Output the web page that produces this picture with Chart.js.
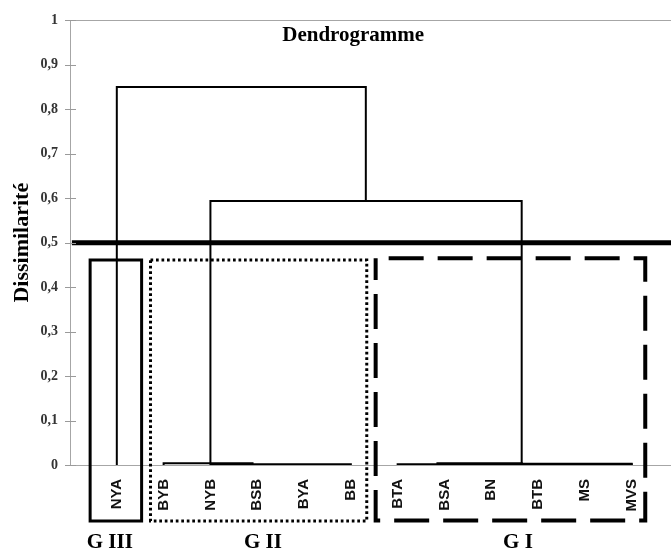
<!DOCTYPE html>
<html>
<head>
<meta charset="utf-8">
<script src="https://cdn.jsdelivr.net/npm/chart.js@4.4.1/dist/chart.umd.min.js"></script>
<style>
  html, body { margin: 0; padding: 0; background: #ffffff; }
  canvas { display: block; }
</style>
</head>
<body>
<canvas id="chart" width="671" height="553"></canvas>
<script>
// Leaves of the tree, left to right (leaf i sits at x = i + 1)
const leaves = ['NYA', 'BYB', 'NYB', 'BSB', 'BYA', 'BB', 'BTA', 'BSA', 'BN', 'BTB', 'MS', 'MVS'];

// Merges drawn as U-shapes: left branch x, right branch x,
// height of each child node and height of the merge itself
const linkLeftX   = [1,     3,     2,     3,      7,      7.85,  9.65];
const linkRightX  = [6.32,  9.65,  3.9,   6,      12,     9.65,  12];
const linkLeftH   = [0,     0.004, 0,     0,      0,      0,     0];
const linkRightH  = [0.594, 0.004, 0,     0,      0,      0,     0];
const linkHeight  = [0.85,  0.594, 0.004, 0.0015, 0.0015, 0.004, 0.003];

// Truncation level of the tree
const cutLevel = 0.5;

// Y axis tick labels
const yTickValues = [0, 0.1, 0.2, 0.3, 0.4, 0.5, 0.6, 0.7, 0.8, 0.9, 1];
const yTickLabels = ['0', '0,1', '0,2', '0,3', '0,4', '0,5', '0,6', '0,7', '0,8', '0,9', '1'];

// Groups obtained after cutting the tree
const groupNames  = ['G III', 'G II', 'G I'];
const groupFrom   = [0.43, 1.72, 6.53];
const groupTo     = [1.53, 6.34, 12.29];
const groupTop    = [0.461, 0.461, 0.465];
const groupBottom = [-0.126, -0.126, -0.125];
const groupLabelX = [0.85, 4.12, 9.57];
const groupLabelY = -0.175;

const X_MAX = 12.84;
const SERIF = '"Liberation Serif", "Times New Roman", serif';
const SANS = '"Liberation Sans", Arial, sans-serif';

const linkDatasets = linkHeight.map((h, i) => ({
  data: [
    { x: linkLeftX[i], y: linkLeftH[i] },
    { x: linkLeftX[i], y: h },
    { x: linkRightX[i], y: h },
    { x: linkRightX[i], y: linkRightH[i] }
  ],
  showLine: true,
  borderColor: '#000000',
  borderWidth: 2,
  pointRadius: 0,
  tension: 0
}));

const cutDataset = {
  data: [{ x: 0.04, y: cutLevel }, { x: X_MAX, y: cutLevel }],
  showLine: true,
  borderColor: '#000000',
  borderWidth: 5,
  pointRadius: 0
};

// Title, cross tick marks on the value axis, group frames and group names
const decorations = {
  id: 'decorations',
  afterDatasetsDraw(chart) {
    const ctx = chart.ctx;
    const xs = chart.scales.x, ys = chart.scales.y;
    const area = chart.chartArea;
    ctx.save();

    // cross tick marks
    ctx.strokeStyle = '#9a9a9a';
    ctx.lineWidth = 1;
    yTickValues.forEach(v => {
      const py = Math.round(ys.getPixelForValue(v)) + 0.5;
      ctx.beginPath();
      ctx.moveTo(area.left - 5, py);
      ctx.lineTo(area.left + 6, py);
      ctx.stroke();
    });

    // title
    ctx.fillStyle = '#000000';
    ctx.font = 'bold 21px ' + SERIF;
    ctx.textAlign = 'center';
    ctx.textBaseline = 'middle';
    ctx.fillText('Dendrogramme', xs.getPixelForValue(6.05), ys.getPixelForValue(0.965));

    // group frames: solid, dotted, dashed
    const styles = [
      { width: 3, dash: [], offset: 0 },
      { width: 3, dash: [2.7, 2.8], offset: 0 },
      { width: 4, dash: [35, 14], offset: 36 }
    ];
    groupNames.forEach((name, i) => {
      const x0 = xs.getPixelForValue(groupFrom[i]);
      const x1 = xs.getPixelForValue(groupTo[i]);
      const y0 = ys.getPixelForValue(groupTop[i]);
      const y1 = ys.getPixelForValue(groupBottom[i]);
      ctx.strokeStyle = '#000000';
      ctx.lineWidth = styles[i].width;
      ctx.setLineDash(styles[i].dash);
      ctx.lineDashOffset = styles[i].offset;
      ctx.beginPath();
      ctx.moveTo(x0, y0);
      ctx.lineTo(x1, y0);
      ctx.lineTo(x1, y1);
      ctx.lineTo(x0, y1);
      ctx.closePath();
      ctx.stroke();
      ctx.setLineDash([]);
      ctx.lineDashOffset = 0;

      ctx.font = 'bold 21px ' + SERIF;
      ctx.fillText(name, xs.getPixelForValue(groupLabelX[i]), ys.getPixelForValue(groupLabelY));
    });
    ctx.restore();
  }
};

new Chart(document.getElementById('chart'), {
  type: 'scatter',
  data: { datasets: [...linkDatasets, cutDataset] },
  plugins: [decorations],
  options: {
    responsive: false,
    animation: false,
    layout: { padding: { top: 16, left: 0, right: 0, bottom: 0 } },
    plugins: { legend: { display: false }, tooltip: { enabled: false }, title: { display: false } },
    scales: {
      x: {
        type: 'linear',
        min: 0,
        max: X_MAX,
        afterBuildTicks(scale) { scale.ticks = leaves.map((_, i) => ({ value: i + 1 })); },
        afterFit(scale) { scale.height = 88; },
        grid: { display: false, drawTicks: false },
        border: { display: true, color: '#a6a6a6', width: 1 },
        ticks: {
          autoSkip: false,
          minRotation: 90,
          maxRotation: 90,
          padding: 14,
          color: '#111111',
          font: { family: SANS, size: 15, weight: 'bold' },
          callback: v => leaves[v - 1]
        }
      },
      y: {
        type: 'linear',
        min: 0,
        max: 1,
        afterBuildTicks(scale) { scale.ticks = yTickValues.map(v => ({ value: v })); },
        afterFit(scale) { scale.width = 70; },
        grid: {
          drawTicks: false,
          color: c => (c.tick && c.tick.value === 1 ? '#a6a6a6' : 'rgba(0,0,0,0)')
        },
        border: { display: true, color: '#a6a6a6', width: 1 },
        ticks: {
          padding: 12,
          color: '#333333',
          font: { family: SERIF, size: 14, weight: 'bold' },
          callback: (v, i) => yTickLabels[i]
        },
        title: {
          display: true,
          text: 'Dissimilarité',
          color: '#000000',
          font: { family: SERIF, size: 22, weight: 'bold' },
          padding: { top: 9, bottom: 0 }
        }
      }
    }
  }
});
</script>
</body>
</html>
